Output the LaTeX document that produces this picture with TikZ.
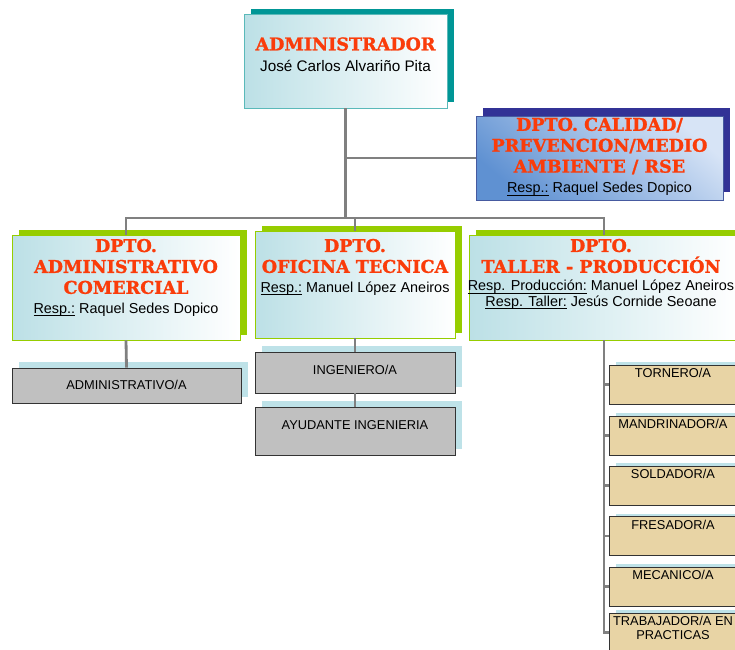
\documentclass[tikz,border=0pt]{standalone}
\usepackage{fontspec}
\setmainfont{Liberation Sans}
\newfontfamily\headfont{DejaVu Serif}[BoldFeatures={FakeBold=1.3}]
\usetikzlibrary{positioning,shadows}

\definecolor{headred}{RGB}{250,60,10}
\definecolor{linegray}{RGB}{128,128,128}
\definecolor{paleblue}{RGB}{188,224,230}
\definecolor{tealedge}{RGB}{90,185,185}
\definecolor{shadowteal}{RGB}{0,150,150}
\definecolor{shadownavy}{RGB}{50,50,150}
\definecolor{navyedge}{RGB}{70,90,160}
\definecolor{midblue}{RGB}{95,145,210}
\definecolor{lightblue}{RGB}{215,228,246}
\definecolor{shadowgreen}{RGB}{150,205,0}
\definecolor{greenedge}{RGB}{150,205,0}
\definecolor{shadowcyan}{RGB}{190,226,232}
\definecolor{boxgray}{RGB}{192,192,192}
\definecolor{wood}{RGB}{232,212,165}

\newcommand\respul[1]{\underline{\smash{#1}}}

\begin{document}
\begin{tikzpicture}[
    x=0.02cm, y=-0.02cm,
    link/.style={line width=1.6pt, draw=linegray},
    chief/.style={rectangle, draw=tealedge, left color=paleblue, right color=white, drop shadow={shadow xshift=0.14cm, shadow yshift=0.11cm, fill=shadowteal, opacity=1}},
    quality/.style={rectangle, draw=navyedge, top color=lightblue, bottom color=midblue, shading angle=-40, drop shadow={shadow xshift=0.14cm, shadow yshift=0.16cm, fill=shadownavy, opacity=1}},
    dept/.style={rectangle, draw=greenedge, left color=paleblue, right color=white, drop shadow={shadow xshift=0.14cm, shadow yshift=0.1cm, fill=shadowgreen, opacity=1}},
    staff/.style={rectangle, draw=black!80, fill=boxgray, drop shadow={shadow xshift=0.14cm, shadow yshift=0.12cm, fill=shadowcyan, opacity=1}},
    worker/.style={rectangle, draw=black!80, fill=wood, drop shadow={shadow xshift=0.14cm, shadow yshift=0.06cm, fill=shadowcyan, opacity=1}},
    head/.style={text=headred, font=\headfont\bfseries\fontsize{10}{11.9}\selectfont, align=center, inner sep=0pt},
    resp/.style={font=\fontsize{8.2}{9}\selectfont, align=center, inner sep=0pt},
    jobtext/.style={font=\fontsize{7.3}{8}\selectfont, align=center, inner sep=0pt}
]
    \useasboundingbox (0,0) rectangle (735,650);
    \clip (0,0) rectangle (735,650);

    % Direction
    \node [chief, minimum width=4.06cm, minimum height=1.88cm] (adm) at (345.5,61) {};
    \node [head] (admt) at (345.5,44) {ADMINISTRADOR};
    \node [resp, font=\fontsize{8.7}{10}\selectfont, below=5pt of admt] (admn) {José Carlos Alvariño Pita};

    % Quality department
    \node [quality, minimum width=4.94cm, minimum height=1.68cm] (cal) at (599.5,158) {};
    \node [head] (calt) at (599.5,146) {DPTO. CALIDAD/\\PREVENCION/MEDIO\\AMBIENTE / RSE};
    \node [resp, below=4pt of calt] (calr) {\respul{Resp.:} Raquel Sedes Dopico};

    % Departments
    \node [dept, minimum width=4.56cm, minimum height=2.1cm] (dadm) at (126,287.5) {};
    \node [head] (dadmt) at (126,266.5) {DPTO.\\ADMINISTRATIVO\\COMERCIAL};
    \node [resp, below=4.5pt of dadmt] (dadmr) {\respul{Resp.:} Raquel Sedes Dopico};

    \node [dept, minimum width=4cm, minimum height=2.14cm] (dofi) at (355,284.5) {};
    \node [head] (dofit) at (355,256) {DPTO.\\OFICINA TECNICA};
    \node [resp, below=4.5pt of dofit] (dofir) {\respul{Resp.:} Manuel López Aneiros};

    \node [dept, minimum width=5.4cm, minimum height=2.1cm] (dtal) at (604,287.5) {};
    \node [head] (dtalt) at (601,256) {DPTO.\\TALLER - PRODUCCIÓN};
    \node [resp, below=3.5pt of dtalt] (dtalr) {\respul{Resp. Producción:} Manuel López Aneiros\\\respul{Resp. Taller:} Jesús Cornide Seoane};

    % Staff
    \node [staff, minimum width=4.58cm, minimum height=0.7cm] (admv) at (126.5,385.5) {};
    \node [jobtext, below=7pt of admv.north] (admvt) {ADMINISTRATIVO/A};

    \node [staff, minimum width=4cm, minimum height=0.82cm] (ing) at (355,372.5) {};
    \node [jobtext, below=7.5pt of ing.north] (ingt) {INGENIERO/A};
    \node [staff, minimum width=4cm, minimum height=0.96cm] (ayu) at (355,431) {};
    \node [jobtext, below=7.5pt of ayu.north] (ayut) {AYUDANTE INGENIERIA};

    % Workshop
    \node [worker, minimum width=2.56cm, minimum height=0.78cm] (tor) at (673,384.5) {};
    \node [jobtext, below=2pt of tor.north] (tort) {TORNERO/A};
    \node [worker, minimum width=2.56cm, minimum height=0.78cm] (man) at (673,435.5) {};
    \node [jobtext, below=2pt of man.north] (mant) {MANDRINADOR/A};
    \node [worker, minimum width=2.56cm, minimum height=0.78cm] (sol) at (673,485.5) {};
    \node [jobtext, below=2pt of sol.north] (solt) {SOLDADOR/A};
    \node [worker, minimum width=2.56cm, minimum height=0.78cm] (fre) at (673,536) {};
    \node [jobtext, below=2pt of fre.north] (fret) {FRESADOR/A};
    \node [worker, minimum width=2.56cm, minimum height=0.78cm] (mec) at (673,586.5) {};
    \node [jobtext, below=2pt of mec.north] (mect) {MECANICO/A};
    \node [worker, minimum width=2.56cm, minimum height=0.78cm] (tra) at (673,632.5) {};
    \node [jobtext, below=2pt of tra.north] (trat) {TRABAJADOR/A EN\\PRACTICAS};

    % Connectors
    \coordinate (busl) at (126,218);
    \coordinate (busr) at (604,218);
    \draw [link] (adm.south) -- (adm.south |- busl);
    \draw [link] (adm.south |- cal.west) -- (cal.west);
    \draw [link] (dadm.north) -- (busl) -- (busr) -- (dtal.north);
    \draw [link] (dofi.north) -- (dofi.north |- busl);
    \draw [link] (dadm.south) -- (admv.north);
    \draw [link] (dofi.south) -- (ing.north);
    \draw [link] (ing.south) -- (ayu.north);
    \draw [link] (dtal.south) -- (dtal.south |- tra.west) -- (tra.west);
    \draw [link] (dtal.south |- tor.west) -- (tor.west);
    \draw [link] (dtal.south |- man.west) -- (man.west);
    \draw [link] (dtal.south |- sol.west) -- (sol.west);
    \draw [link] (dtal.south |- fre.west) -- (fre.west);
    \draw [link] (dtal.south |- mec.west) -- (mec.west);
\end{tikzpicture}
\end{document}
